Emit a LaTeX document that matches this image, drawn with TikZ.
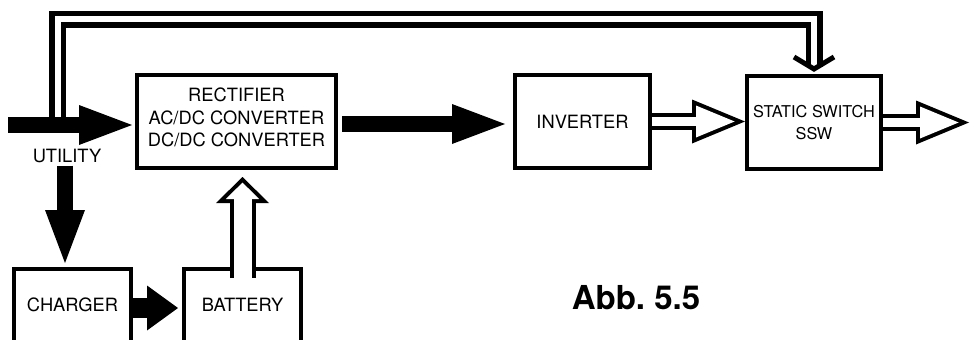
\documentclass[tikz,border=0pt]{standalone}
\usepackage{fontspec}
\setmainfont{TeX Gyre Heros}
\usetikzlibrary{arrows.meta, positioning, calc}

\begin{document}
\begin{tikzpicture}[x=1pt, y=-1pt, font=\fontsize{18.3pt}{22.5pt}\selectfont,
        box/.style={draw, line width=4pt, align=center, inner sep=0pt,
                    minimum width=#1, minimum height=93pt},
        box/.default=117pt,
        openbox/.style={box, anchor=base, text height=42.5pt, text depth=60pt},
        solidarrow/.style={line width=15.5pt, -{Triangle[length=53pt, width=40pt, line width=0pt]}},
        hollowout/.style={line width=17pt, -{Triangle[length=53pt, width=44pt, line width=0pt]}},
        hollowin/.style={draw=white, line width=9pt, shorten >=10.4pt,
                         -{Triangle[length=38.6pt, width=32pt, line width=0pt]}},
        bypass/.style={line width=5.5pt, double=white, double distance=6pt},
        chevron/.style={line width=5pt}
    ]
        \clip (0,0) rectangle (970,340);
        % blocks
        \node[box=199pt] (rect) at (236.5,121.5) {RECTIFIER\\AC/DC CONVERTER\\DC/DC CONVERTER\\[-14.5pt]};
        \node[box=135pt] (inv) at (582.5,121.5) {INVERTER};
        \node[box=134pt, font=\fontsize{16.3pt}{22pt}\selectfont] (ssw) at (814,122.5) {STATIC SWITCH\\SSW};
        \node[openbox] (chg) at (72.5,311.5) {CHARGER};
        \node[openbox] (bat) at (242.5,311.5) {BATTERY};
        \node[inner sep=0pt] (utillbl) at (67,156) {UTILITY};
        \node[font=\fontsize{33pt}{36pt}\bfseries] (abb) at (636,298) {Abb.\ 5.5};
        \coordinate (util) at (8,125);
        \coordinate (tap) at (57.75,125);
        \coordinate (out) at (969,121);
        % bypass line to the static switch
        \draw[bypass] (tap) |- ([yshift=55pt]ssw.north) -- ([yshift=7pt]ssw.north);
        \draw[chevron] ([xshift=-20pt,yshift=17pt]ssw.north) -- ([yshift=5pt]ssw.north)
            -- ([xshift=20pt,yshift=17pt]ssw.north);
        % solid arrows
        \draw[solidarrow, shorten >=3pt] (util) -- (util -| rect.west);
        \draw[solidarrow, shorten <=4pt, shorten >=8pt] ([yshift=-2.5pt]rect.east) -- ([yshift=-2.5pt]inv.west);
        \draw[solidarrow, shorten <=2.5pt, shorten >=4pt] ([xshift=-2pt]utillbl.south)
            -- ([xshift=-2pt]utillbl.south |- chg.north);
        \draw[line width=20pt, -{Triangle[length=31pt, width=45pt, line width=0pt]}, shorten >=4pt]
            ([yshift=3.5pt]chg.base east) -- ([yshift=3.5pt]bat.base west);
        % hollow arrows
        \foreach \a/\b in {inv/ssw.west, ssw/out} {
            \draw[hollowout] (\a.east) -- (\a.east -| \b);
            \draw[hollowin] (\a.east) -- (\a.east -| \b);
        }
        \draw[hollowout, line width=26pt, shorten >=7pt, -{Triangle[length=26pt, width=53pt, line width=0pt]}]
            ([yshift=-11pt]bat.north) -- (bat.north |- rect.south);
        \draw[hollowin, line width=18pt, shorten >=12.6pt, -{Triangle[length=16.4pt, width=33.4pt, line width=0pt]}]
            ([yshift=-11pt]bat.north) -- (bat.north |- rect.south);
    \end{tikzpicture}
\end{document}
